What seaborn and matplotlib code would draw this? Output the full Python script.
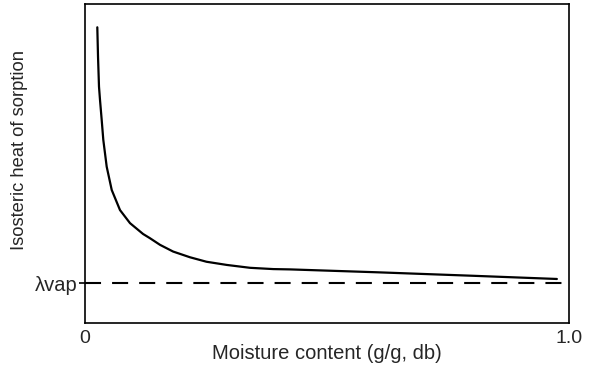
import matplotlib
matplotlib.use("Agg")
import matplotlib.pyplot as plt
import seaborn as sns
import pandas as pd

# values (axes scaled 0..1 both ways)
moisture = [0.0254, 0.0269, 0.0289, 0.0310, 0.0345, 0.0378, 0.0448, 0.0552,
            0.0723, 0.0930, 0.120, 0.134, 0.155, 0.182, 0.217, 0.251,
            0.293, 0.341, 0.389, 0.424, 0.603, 0.802, 0.975]
heat = [0.927, 0.834, 0.741, 0.699, 0.636, 0.574, 0.490, 0.417,
        0.354, 0.313, 0.279, 0.266, 0.245, 0.224, 0.206, 0.192,
        0.182, 0.173, 0.169, 0.168, 0.159, 0.148, 0.138]
lambda_vap = 0.124
x_ticks = [0, 1.0]
x_tick_labels = ["0", "1.0"]

df = pd.DataFrame({"moisture": moisture, "heat": heat})

sns.set_style("white")
plt.rcParams["font.family"] = ["Liberation Sans", "DejaVu Sans"]

fig = plt.figure(figsize=(5.92, 3.68), dpi=100)
ax = fig.add_axes([0.1436, 0.1223, 0.8175, 0.8668])

sns.lineplot(data=df, x="moisture", y="heat", ax=ax, color="black", lw=1.6)
ax.axhline(lambda_vap, color="black", lw=1.5, linestyle=(0, (7.7, 5.3)))

ax.set_xlim(0, 1)
ax.set_ylim(0, 1)

for s in ax.spines.values():
    s.set_color("black")
    s.set_linewidth(1.2)

ax.set_xticks(x_ticks)
ax.set_xticklabels(x_tick_labels, fontsize=14)
ax.set_yticks([lambda_vap])
ax.set_yticklabels(["λvap"], fontsize=14.5)
ax.tick_params(axis="x", length=0, pad=5)
ax.tick_params(axis="y", length=4, width=1.2, color="black", direction="out", pad=1, left=True)

ax.set_xlabel("Moisture content (g/g, db)", fontsize=14.5)
ax.xaxis.set_label_coords(0.5, -0.065)
ax.set_ylabel("Isosteric heat of sorption", fontsize=13.2)
ax.yaxis.set_label_coords(-0.118, 0.542)

fig.savefig("out.png", dpi=100)
